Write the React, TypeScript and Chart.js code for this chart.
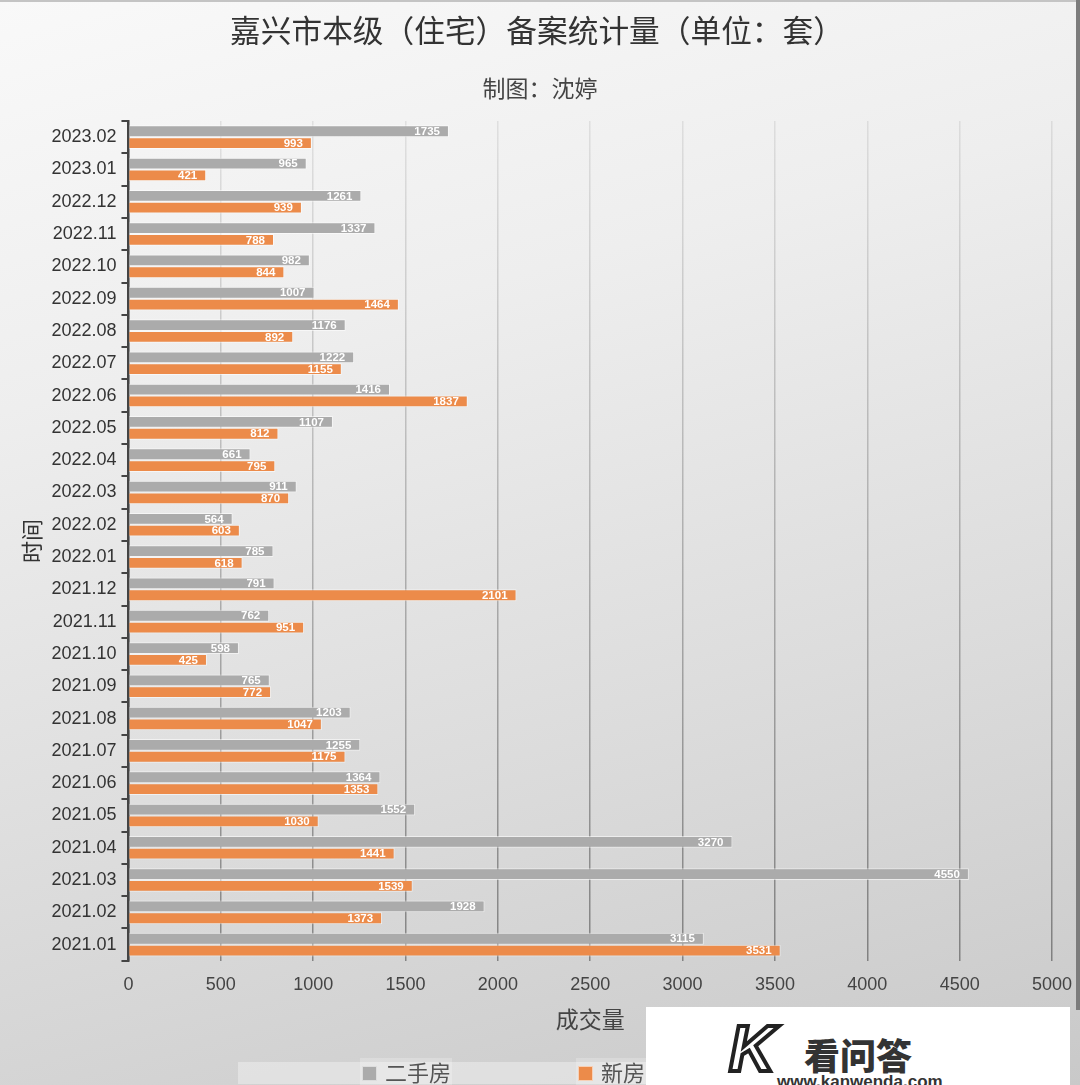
import React, { useEffect, useRef } from "react";
import { Chart, registerables } from "chart.js";

Chart.register(...registerables);

// ---- data (top to bottom as shown) ----
const months = [
  "2023.02", "2023.01", "2022.12", "2022.11", "2022.10", "2022.09", "2022.08",
  "2022.07", "2022.06", "2022.05", "2022.04", "2022.03", "2022.02", "2022.01",
  "2021.12", "2021.11", "2021.10", "2021.09", "2021.08", "2021.07", "2021.06",
  "2021.05", "2021.04", "2021.03", "2021.02", "2021.01",
];
const resale = [
  1735, 965, 1261, 1337, 982, 1007, 1176, 1222, 1416, 1107, 661, 911, 564, 785,
  791, 762, 598, 765, 1203, 1255, 1364, 1552, 3270, 4550, 1928, 3115,
];
const newHomes = [
  993, 421, 939, 788, 844, 1464, 892, 1155, 1837, 812, 795, 870, 603, 618,
  2101, 951, 425, 772, 1047, 1175, 1353, 1030, 1441, 1539, 1373, 3531,
];
const seriesNames = ["二手房", "新房"];
const seriesColors = ["#ababab", "#ec8b4a"];
const xMin = 0;
const xMax = 5000;
const xStep = 500;
const titleText = "嘉兴市本级（住宅）备案统计量（单位：套）";
const subtitleText = "制图：沈婷";
const xTitle = "成交量";
const yTitle = "时间";

const CJK = "'Noto Sans CJK SC', 'Noto Sans', sans-serif";
const LAT = "'Liberation Sans', Arial, Helvetica, sans-serif";

const valueLabels = {
  id: "valueLabels",
  afterDatasetsDraw(chart: any) {
    const ctx = chart.ctx;
    ctx.save();
    ctx.font = `bold 11.5px ${LAT}`;
    ctx.fillStyle = "#ffffff";
    ctx.textAlign = "right";
    ctx.textBaseline = "middle";
    chart.data.datasets.forEach((ds: any, di: number) => {
      const meta = chart.getDatasetMeta(di);
      meta.data.forEach((el: any, i: number) => {
        ctx.fillText(String(ds.data[i]), el.x - 9, el.y + 0.5);
      });
    });
    ctx.restore();
  },
};

const headerPlugin = {
  id: "headerTexts",
  afterDraw(chart: any) {
    const ctx = chart.ctx;
    ctx.save();
    ctx.textAlign = "center";
    ctx.textBaseline = "middle";
    ctx.font = `30.7px ${CJK}`;
    ctx.fillStyle = "#333";
    ctx.fillText(titleText, 537, 30.5);
    ctx.font = `23px ${CJK}`;
    ctx.fillStyle = "#444";
    ctx.fillText(subtitleText, 540, 88);
    ctx.restore();
  },
};

const customLegend = {
  id: "customLegend",
  afterDraw(chart: any) {
    const ctx = chart.ctx;
    ctx.save();
    ctx.fillStyle = "rgba(255,255,255,0.35)";
    ctx.fillRect(238, 1062, 604, 22);
    const items = [
      { x: 362, bgW: 92 },
      { x: 578, bgW: 80 },
    ];
    chart.data.datasets.forEach((ds: any, i: number) => {
      const it = items[i];
      ctx.fillStyle = "rgba(255,255,255,0.22)";
      ctx.fillRect(it.x - 2, 1058, it.bgW, 27);
      ctx.fillStyle = ds.backgroundColor;
      ctx.fillRect(it.x, 1066, 15, 15);
      ctx.strokeStyle = "rgba(255,255,255,0.6)";
      ctx.lineWidth = 1;
      ctx.strokeRect(it.x + 0.5, 1066.5, 14, 14);
      ctx.fillStyle = "#555";
      ctx.font = `22px ${CJK}`;
      ctx.textAlign = "left";
      ctx.textBaseline = "middle";
      ctx.fillText(ds.label, it.x + 23, 1073);
    });
    ctx.restore();
  },
};

function gridGradient(c: any) {
  const chart = c.chart;
  const area = chart.chartArea;
  if (!area) return "rgba(0,0,0,0.2)";
  const g = chart.ctx.createLinearGradient(0, area.top, 0, area.bottom);
  g.addColorStop(0, "rgba(0,0,0,0.08)");
  g.addColorStop(1, "rgba(0,0,0,0.38)");
  return g;
}

export default function App() {
  const ref = useRef<HTMLCanvasElement>(null);

  useEffect(() => {
    if (!ref.current) return;
    const chart = new Chart(ref.current, {
      type: "bar",
      data: {
        labels: months,
        datasets: [
          {
            label: seriesNames[0],
            data: resale,
            backgroundColor: seriesColors[0],
            borderColor: "rgba(255,255,255,0.55)",
            borderWidth: 1,
          },
          {
            label: seriesNames[1],
            data: newHomes,
            backgroundColor: seriesColors[1],
            borderColor: "rgba(255,255,255,0.55)",
            borderWidth: 1,
          },
        ],
      },
      options: {
        indexAxis: "y",
        animation: false,
        responsive: false,
        devicePixelRatio: 1,
        layout: { padding: { left: 10, right: 28, top: 121, bottom: 52 } },
        datasets: {
          bar: { categoryPercentage: 0.73, barPercentage: 1.0 },
        },
        plugins: {
          legend: { display: false },
          tooltip: { enabled: false },
          title: { display: false },
          subtitle: { display: false },
        },
        scales: {
          x: {
            type: "linear",
            min: xMin,
            max: xMax,
            afterFit: (s: any) => {
              s.paddingRight = 0;
              s.paddingLeft = 0;
            },
            ticks: {
              stepSize: xStep,
              color: "#444",
              font: { family: LAT, size: 18 },
              padding: 13,
              callback: (v: any) => String(v),
            },
            grid: {
              color: gridGradient as any,
              lineWidth: 1.5,
              drawTicks: false,
            },
            border: { display: false },
            title: {
              display: true,
              text: xTitle,
              color: "#444",
              font: { family: CJK, size: 23 },
              padding: { top: -3, bottom: 0 },
            },
          },
          y: {
            type: "category",
            ticks: {
              color: "#333",
              font: { family: LAT, size: 18 },
              padding: 5,
              autoSkip: false,
            },
            grid: {
              drawOnChartArea: false,
              drawTicks: true,
              tickLength: 7,
              color: "#444",
              lineWidth: 2,
            },
            border: { display: true, color: "#444", width: 2.5 },
            title: {
              display: true,
              text: yTitle,
              color: "#333",
              font: { family: CJK, size: 22 },
              padding: { top: 8, bottom: 2 },
            },
          },
        },
      },
      plugins: [valueLabels, headerPlugin, customLegend],
    });
    return () => chart.destroy();
  }, []);

  return (
    <div
      style={{
        position: "absolute",
        left: 0,
        top: 0,
        width: 1080,
        height: 1085,
        overflow: "hidden",
        background:
          "linear-gradient(165deg, #f9f9f9 0%, #eeeeee 30%, #dcdcdc 65%, #c9c9c9 100%)",
      }}
    >
      <div
        style={{
          position: "absolute",
          left: 0,
          top: 0,
          width: 1080,
          height: 2,
          background: "#c4c4c4",
        }}
      />
      <div
        style={{
          position: "absolute",
          left: 1076,
          top: 0,
          width: 4,
          height: 1010,
          background: "#7c7c7c",
        }}
      />
      <canvas
        ref={ref}
        width={1080}
        height={1085}
        style={{ position: "absolute", left: 0, top: 0, width: 1080, height: 1085 }}
      />
      <div
        style={{
          position: "absolute",
          left: 646,
          top: 1007,
          width: 424,
          height: 78,
          background: "#ffffff",
        }}
      >
        <div
          style={{
            position: "absolute",
            left: 83,
            top: 10,
            fontFamily: LAT,
            fontWeight: "bold",
            fontSize: 64,
            lineHeight: "64px",
            color: "#ffffff",
            WebkitTextStroke: "4px #222",
            fontStyle: "italic",
          }}
        >
          K
        </div>
        <div
          style={{
            position: "absolute",
            left: 158,
            top: 26,
            fontFamily: CJK,
            fontWeight: 900,
            fontSize: 36,
            lineHeight: "42px",
            color: "#333",
          }}
        >
          看问答
        </div>
        <div
          style={{
            position: "absolute",
            left: 131,
            top: 65,
            fontFamily: LAT,
            fontWeight: "bold",
            fontSize: 17,
            lineHeight: "20px",
            color: "#333",
          }}
        >
          www.kanwenda.com
        </div>
      </div>
    </div>
  );
}
